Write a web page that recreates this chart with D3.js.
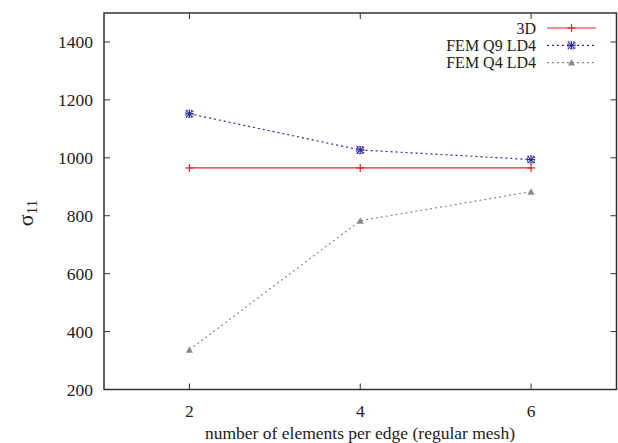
<!DOCTYPE html>
<html><head><meta charset="utf-8">
<script src="https://cdn.jsdelivr.net/npm/d3@7"></script>
<style>body{margin:0;background:#fff}svg{display:block}</style>
</head><body><svg id="c" width="618" height="443" font-family="'Liberation Serif', 'Times New Roman', serif"></svg>
<script>
const xValues = [2, 4, 6];
const series3D = [965, 965, 965];
const seriesQ9 = [1152, 1027, 994];
const seriesQ4 = [337, 783, 883];
const seriesNames = ["3D", "FEM Q9 LD4", "FEM Q4 LD4"];
const xTicks = [2, 4, 6];
const yTicks = [200, 400, 600, 800, 1000, 1200, 1400];

const svg = d3.select("#c");
const L = 104, R = 616.5, T = 13, B = 389.5;
const x = d3.scaleLinear().domain([1, 7]).range([L, R]);
const y = d3.scaleLinear().domain([200, 1500]).range([B, T]);
const axisColor = "#333";
const textColor = "#222";
const FS = 17.5;
const LFS = 16;

const tl = 6;
const g = svg.append("g");
xTicks.forEach(v => {
  g.append("line").attr("x1", x(v)).attr("x2", x(v)).attr("y1", B).attr("y2", B - tl).attr("stroke", axisColor).attr("stroke-width", 1);
  g.append("line").attr("x1", x(v)).attr("x2", x(v)).attr("y1", T).attr("y2", T + tl).attr("stroke", axisColor).attr("stroke-width", 1);
  g.append("text").attr("x", x(v)).attr("y", B + 27).attr("text-anchor", "middle").attr("font-size", FS).attr("fill", textColor).text(v);
});
yTicks.forEach(v => {
  g.append("line").attr("x1", L).attr("x2", L + tl).attr("y1", y(v)).attr("y2", y(v)).attr("stroke", axisColor).attr("stroke-width", 1);
  g.append("line").attr("x1", R).attr("x2", R - tl).attr("y1", y(v)).attr("y2", y(v)).attr("stroke", axisColor).attr("stroke-width", 1);
  g.append("text").attr("x", L - 11).attr("y", y(v) + 6).attr("text-anchor", "end").attr("font-size", FS).attr("fill", textColor).text(v);
});
svg.append("rect").attr("x", L).attr("y", T).attr("width", R - L).attr("height", B - T)
  .attr("fill", "none").attr("stroke", axisColor).attr("stroke-width", 1.5);

svg.append("text").attr("x", 360).attr("y", 439).attr("text-anchor", "middle").attr("font-size", FS).attr("fill", textColor)
  .text("number of elements per edge (regular mesh)");
const yl = svg.append("text").attr("transform", "translate(33,213) rotate(-90)").attr("text-anchor", "middle").attr("font-size", 22).attr("fill", textColor);
yl.append("tspan").text("σ");
yl.append("tspan").attr("font-size", 15).attr("dy", 4).text("11");

const line = d3.line().x(d => x(d[0])).y(d => y(d[1]));
const defs = [
  {name: seriesNames[0], vals: series3D, color: "#ee2020", dash: null, marker: "plus"},
  {name: seriesNames[1], vals: seriesQ9, color: "#2a2a9a", dash: "2,3", marker: "star"},
  {name: seriesNames[2], vals: seriesQ4, color: "#8a8a8a", dash: "2,3", marker: "tri"}
];
function drawMarker(sel, type, cx, cy, color) {
  if (type === "plus") {
    sel.append("line").attr("x1", cx - 4).attr("x2", cx + 4).attr("y1", cy).attr("y2", cy).attr("stroke", color).attr("stroke-width", 1.2);
    sel.append("line").attr("x1", cx).attr("x2", cx).attr("y1", cy - 4).attr("y2", cy + 4).attr("stroke", color).attr("stroke-width", 1.2);
  } else if (type === "star") {
    sel.append("rect").attr("x", cx - 3.5).attr("y", cy - 3.5).attr("width", 7).attr("height", 7).attr("fill", "none").attr("stroke", color).attr("stroke-width", 1).attr("stroke-dasharray", "1.5,1");
    [[-4,0,4,0],[0,-4,0,4],[-3,-3,3,3],[-3,3,3,-3]].forEach(s =>
      sel.append("line").attr("x1", cx + s[0]).attr("y1", cy + s[1]).attr("x2", cx + s[2]).attr("y2", cy + s[3]).attr("stroke", color).attr("stroke-width", 1.1));
  } else {
    sel.append("path").attr("d", `M${cx - 3.5},${cy + 3}L${cx + 3.5},${cy + 3}L${cx},${cy - 3.5}Z`).attr("fill", color);
  }
}
defs.forEach((s, i) => {
  const pts = xValues.map((v, j) => [v, s.vals[j]]);
  svg.append("path").attr("d", line(pts)).attr("fill", "none").attr("stroke", s.color).attr("stroke-width", 1.2)
    .attr("stroke-dasharray", s.dash);
  const mg = svg.append("g");
  pts.forEach(p => drawMarker(mg, s.marker, x(p[0]), y(p[1]), s.color));
  const ly = 28 + i * 17.3;
  svg.append("text").attr("x", 536).attr("y", ly + 5.5).attr("text-anchor", "end").attr("font-size", LFS).attr("fill", textColor).text(s.name);
  svg.append("line").attr("x1", 547).attr("x2", 596).attr("y1", ly).attr("y2", ly).attr("stroke", s.color).attr("stroke-width", 1.2).attr("stroke-dasharray", s.dash);
  drawMarker(svg.append("g"), s.marker, 571.5, ly, s.color);
});
</script></body></html>
